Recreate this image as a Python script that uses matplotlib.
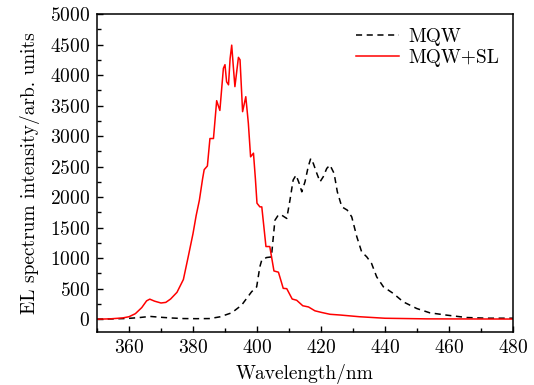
import matplotlib
matplotlib.use('Agg')
import matplotlib.pyplot as plt
from matplotlib.ticker import MultipleLocator

plt.rcParams['font.family'] = 'cmr10'
plt.rcParams['axes.formatter.use_mathtext'] = True
plt.rcParams['mathtext.fontset'] = 'cm'

# MQW+SL (red)
wl_sl = [350, 354, 358, 360, 362, 364, 365.5, 366.5, 368, 370, 371.5, 373, 375, 377,
         378.5, 380, 381, 382, 383, 383.5, 384.5, 385.3, 386.4, 387.4, 388.4, 389.5,
         390, 390.5, 391.1, 391.6, 392.1, 392.6, 393.1, 394.2, 394.7, 395.5, 396.5,
         397.3, 398, 398.9, 399.5, 400, 400.9, 401.5, 402.8, 404, 405.3, 406.7, 408.2,
         409.3, 411, 412.4, 414.3, 416.1, 418.1, 420.2, 422.8, 426, 432, 440, 453, 480]
el_sl = [0, 5, 20, 40, 90, 190, 300, 328, 295, 265, 275, 330, 440, 650,
         1020, 1400, 1700, 1950, 2300, 2450, 2510, 2960, 2960, 3580, 3420, 4110,
         4170, 3890, 3840, 4270, 4490, 4140, 3810, 4290, 4250, 3400, 3645,
         3210, 2660, 2720, 2300, 1900, 1840, 1840, 1190, 1190, 790, 770, 505,
         500, 330, 310, 220, 200, 137, 110, 80, 68, 40, 15, 5, 2]

# MQW (black dashed)
wl_mqw = [350, 355, 359.3, 363, 366.6, 369.7, 373, 377, 381, 385.3, 388.4, 392.1, 395.2,
          398.3, 399.9, 400.9, 401.5, 403, 404.5, 405.6, 406.7, 407.7, 409.3, 410.3,
          411.3, 412.2, 413.2, 414, 415, 416, 416.8, 417.6, 418.7, 419.7, 420.7, 421.8,
          422.8, 424.1, 425.1, 426.5, 428.2, 429.6, 431.2, 432.7, 434.3, 435.8, 437.4,
          439.5, 442.6, 445.7, 449.9, 454, 459.3, 465.5, 471.8, 480]
el_mqw = [0, 5, 11, 25, 45, 32, 20, 10, 8, 10, 38, 104, 230,
          448, 530, 860, 970, 1010, 1020, 1620, 1710, 1705, 1650, 1950,
          2280, 2360, 2224, 2087, 2251, 2497, 2634, 2552, 2388, 2251, 2333, 2470,
          2525, 2388, 2087, 1841, 1787, 1677, 1349, 1103, 1021, 913, 693,
          530, 421, 284, 175, 104, 66, 27, 16, 16]

fs = 14

fig = plt.figure(figsize=(5.34, 3.85), dpi=100)
ax = fig.add_axes([0.1816, 0.1377, 0.7791, 0.8259])
ax.plot(wl_mqw, el_mqw, color='k', ls=(0, (4, 3)), lw=1.1, label='MQW')
ax.plot(wl_sl, el_sl, color='#ff0000', lw=1.1, label='MQW+SL')

ax.set_xlim(350, 480)
ax.set_ylim(-210, 5000)
ax.xaxis.set_major_locator(MultipleLocator(20))
ax.xaxis.set_minor_locator(MultipleLocator(10))
ax.yaxis.set_major_locator(MultipleLocator(500))
ax.yaxis.set_minor_locator(MultipleLocator(250))
ax.tick_params(which='both', direction='in', labelsize=fs, width=1, pad=5)
ax.tick_params(which='major', length=4)
ax.tick_params(which='minor', length=3)
for s in ax.spines.values():
    s.set_linewidth(1.1)

ax.set_xlabel('Wavelength/nm', fontsize=fs, labelpad=5)
ax.set_ylabel('EL spectrum intensity/arb. units', fontsize=fs, labelpad=7)
ax.legend(loc='upper right', frameon=False, fontsize=fs, handlelength=2.2,
          handletextpad=0.5, borderaxespad=0.3, labelspacing=0.15)

fig.savefig('out.png', dpi=100)
